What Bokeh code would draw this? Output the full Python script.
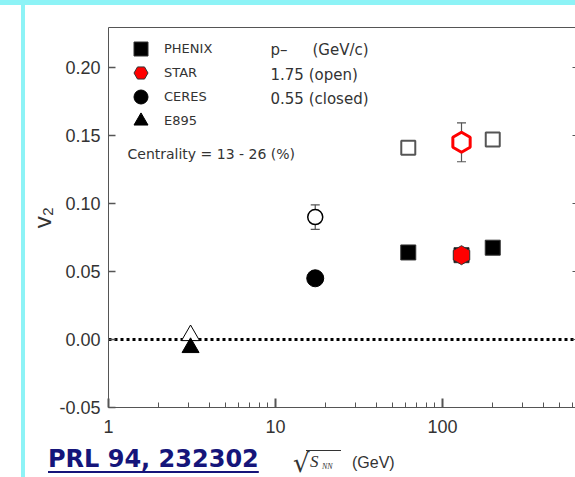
import math
from bokeh.plotting import figure
from bokeh.layouts import column
from bokeh.models import (FixedTicker, NumeralTickFormatter, LinearAxis, Span, Whisker,
                          TeeHead, ColumnDataSource, Legend, LegendItem, Label,
                          Range1d, Div)
from bokeh.embed import file_html
from bokeh.resources import INLINE

# ---------------- data ----------------
phenix_energy = [62.4, 130.0, 200.0]
phenix_v2_closed = [0.064, 0.062, 0.0675]
phenix_open_energy = [62.4, 200.0]
phenix_v2_open = [0.141, 0.147]

star_energy = [130.0]
star_v2_open = [0.145]
star_err_open = [0.0143]
star_v2_closed = [0.062]

ceres_energy = [17.3]
ceres_v2_open = [0.090]
ceres_err_open = [0.009]
ceres_v2_closed = [0.045]

e895_energy = [3.1]
e895_v2_open = [0.003]
e895_v2_closed = [-0.006]

x_ticks = [1, 10, 100]
x_minor_ticks = [2, 3, 4, 5, 6, 7, 8, 9, 20, 30, 40, 50, 60, 70, 80, 90, 200, 300, 400, 500, 600]
y_ticks = [-0.05, 0.0, 0.05, 0.10, 0.15, 0.20]
legend_labels = ["PHENIX", "STAR", "CERES", "E895"]

AXIS = "#555555"
TXT = "#333333"
NAVY = "#15157a"
CYAN = "#8df3f6"

p = figure(width=575, height=446, x_axis_type="log",
           x_range=Range1d(1, 626), y_range=Range1d(-0.05, 0.2294),
           output_backend="svg", toolbar_location=None,
           min_border_left=108, min_border_right=0, min_border_top=27, min_border_bottom=39,
           background_fill_color="white", border_fill_alpha=0, outline_line_color=None)
p.grid.visible = False

# x axis
xa = p.xaxis[0]
xa.ticker = FixedTicker(ticks=x_ticks, minor_ticks=x_minor_ticks)
xa.formatter = NumeralTickFormatter(format="0")
xa.axis_line_color = AXIS
xa.major_tick_line_color = AXIS
xa.major_tick_line_width = 2
xa.minor_tick_line_color = AXIS
xa.major_tick_in = 9
xa.major_tick_out = 0
xa.minor_tick_in = 5
xa.minor_tick_out = 0
xa.major_label_text_font = "Liberation Sans"
xa.major_label_text_font_size = "18px"
xa.major_label_text_color = TXT
xa.major_label_standoff = 12

# y axis
ya = p.yaxis[0]
ya.ticker = FixedTicker(ticks=y_ticks)
ya.formatter = NumeralTickFormatter(format="0.00")
ya.axis_line_color = AXIS
ya.major_tick_line_color = AXIS
ya.major_tick_line_width = 1.5
ya.minor_tick_line_color = None
ya.major_tick_in = 7
ya.major_tick_out = 0
ya.major_label_text_font = "Liberation Sans"
ya.major_label_text_font_size = "18px"
ya.major_label_text_color = TXT
ya.major_label_standoff = 8
ya.axis_label = "v\u2082"
ya.axis_label_text_font = "Liberation Sans"
ya.axis_label_text_font_size = "24px"
ya.axis_label_text_font_style = "normal"
ya.axis_label_text_color = TXT
ya.axis_label_standoff = 0

# top frame line
top = LinearAxis(ticker=FixedTicker(ticks=[]), axis_line_color=AXIS,
                 major_label_standoff=0,
                 major_tick_in=0, major_tick_out=0, minor_tick_in=0, minor_tick_out=0)
p.add_layout(top, "above")
# right side ticks only
right = LinearAxis(ticker=FixedTicker(ticks=y_ticks), axis_line_color=None,
                   major_label_overrides={t: "" for t in y_ticks}, major_label_standoff=0,
                   major_tick_in=3, major_tick_out=0, major_tick_line_color=AXIS,
                   minor_tick_line_color=None)
p.add_layout(right, "right")

# dotted zero line
p.add_layout(Span(location=0, dimension="width", line_color="black", line_width=3,
                  line_dash="3 3", level="underlay"))

# error bars
ceres_src = ColumnDataSource(dict(x=ceres_energy,
                                  upper=[v + e for v, e in zip(ceres_v2_open, ceres_err_open)],
                                  lower=[v - e for v, e in zip(ceres_v2_open, ceres_err_open)]))
star_src = ColumnDataSource(dict(x=star_energy,
                                 upper=[v + e for v, e in zip(star_v2_open, star_err_open)],
                                 lower=[v - e for v, e in zip(star_v2_open, star_err_open)]))
for src in (ceres_src, star_src):
    w = Whisker(base="x", upper="upper", lower="lower", source=src,
                line_color=AXIS, line_width=1.2, level="underlay",
                upper_head=TeeHead(size=9, line_color=AXIS, line_width=1.2),
                lower_head=TeeHead(size=9, line_color=AXIS, line_width=1.2))
    p.add_layout(w)

# markers
hexang = math.pi / 2
p.scatter(e895_energy, e895_v2_open, marker="triangle", size=18, fill_color="white",
          line_color="black", line_width=1)
r_e895 = p.scatter(e895_energy, e895_v2_closed, marker="triangle", size=17,
                   fill_color="black", line_color="black")
p.scatter(ceres_energy, ceres_v2_open, marker="circle", size=15, fill_color="white",
          line_color="black", line_width=1.5)
r_ceres = p.scatter(ceres_energy, ceres_v2_closed, marker="circle", size=17,
                    fill_color="black", line_color="black")
p.scatter(phenix_open_energy, phenix_v2_open, marker="square", size=14, fill_color="white",
          line_color=AXIS, line_width=2)
r_phenix = p.scatter(phenix_energy, phenix_v2_closed, marker="square", size=15,
                     fill_color="black", line_color="#333333", line_width=1)
p.scatter(star_energy, star_v2_open, marker="hex", size=20, angle=hexang, fill_color="white",
          line_color="red", line_width=3)
r_star = p.scatter(star_energy, star_v2_closed, marker="hex", size=19, angle=hexang,
                   fill_color="red", line_color="#333333", line_width=1)

# legend: one entry per Legend so the rows can be 24 px apart
legend_rows = [(r_phenix, 341), (r_star, 317), (r_ceres, 293), (r_e895, 269)]
for lbl, (rend, ybot) in zip(legend_labels, legend_rows):
    lg = Legend(items=[LegendItem(label=lbl, renderers=[rend])],
                location=(15, ybot), glyph_width=35, glyph_height=35,
                padding=0, margin=0, label_standoff=6, border_line_color=None,
                background_fill_alpha=0, label_text_font="DejaVu Sans",
                label_text_font_size="13px", label_text_color=TXT)
    p.add_layout(lg)

def lab(x, y, text, size, font="DejaVu Sans", style="normal", color=TXT,
        baseline="middle", align="left"):
    p.add_layout(Label(x=x, y=y, x_units="screen", y_units="screen", text=text,
                       text_font=font, text_font_size=size, text_font_style=style,
                       text_color=color, text_baseline=baseline, text_align=align))

# legend second column and centrality
lab(162, 358, "p\u2013", "15px")
lab(204, 358, "(GeV/c)", "15px")
lab(162, 333, "1.75 (open)", "15px")
lab(162, 309, "0.55 (closed)", "15px")
lab(19, 254, "Centrality = 13 - 26 (%)", "14px")

# bottom strip with reference and x-axis title
bottom_html = f"""
<div style="position:relative;width:575px;height:31px;overflow:visible;">
<span style="position:absolute;left:48px;top:1px;font:bold 24px/24px 'DejaVu Sans';color:{NAVY};text-decoration:underline;text-decoration-thickness:2px;text-underline-offset:4px;white-space:nowrap;">PRL 94, 232302</span>
<span style="position:absolute;left:293px;top:4px;font:26px/26px 'DejaVu Sans';color:{TXT};">&#8730;</span>
<span style="position:absolute;left:306px;top:4px;width:35px;height:0;border-top:1px solid {TXT};"></span>
<span style="position:absolute;left:310px;top:7px;font:italic 17px/17px 'Liberation Serif';color:{TXT};">S</span>
<span style="position:absolute;left:322px;top:17px;font:italic 8px/8px 'Liberation Serif';color:{TXT};">NN</span>
<span style="position:absolute;left:352px;top:9px;font:16px/16px 'Liberation Sans';color:{TXT};white-space:nowrap;">(GeV)</span>
</div>"""
div = Div(text=bottom_html, width=575, height=31, margin=(0, 0, 0, 0))

layout = column(p, div, spacing=0,
                styles={"background": f"linear-gradient({CYAN}, {CYAN}) 0 0 / 100% 5px no-repeat, "
                                      f"linear-gradient({CYAN}, {CYAN}) 21px 0 / 4px 100% no-repeat, #ffffff"})

open("out.html", "w").write(file_html(layout, INLINE))
